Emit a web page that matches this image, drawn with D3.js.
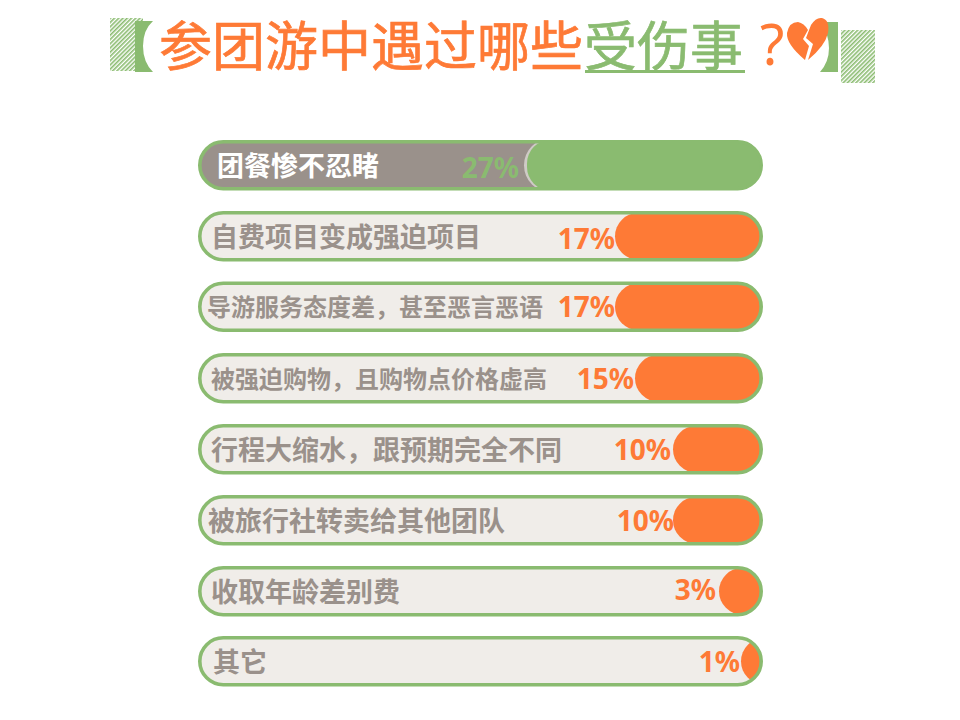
<!DOCTYPE html>
<html><head><meta charset="utf-8">
<script src="https://cdnjs.cloudflare.com/ajax/libs/d3/7.8.5/d3.min.js"></script>
<style>html,body{margin:0;background:#fff}svg{display:block}</style></head>
<body><svg id="c" width="960" height="720"></svg>
<script>
const categories=["团餐惨不忍睹","自费项目变成强迫项目","导游服务态度差，甚至恶言恶语","被强迫购物，且购物点价格虚高","行程大缩水，跟预期完全不同","被旅行社转卖给其他团队","收取年龄差别费","其它"];
const values=[27,17,17,15,10,10,3,1];
const tickLabels=["27%","17%","17%","15%","10%","10%","3%","1%"];
const labelX=[217,211,207,211,211,208,211,213];
const labelSize=[27,27,24,24,27,27,27,27];
const rowTops=[140,211,281.5,353,424,495,566,636];
const pctGap=[8,0,0,1,2,-1,3,1];
const pctY=[28,28,25.5,26,26,26,24,26];
const GREEN="#8abb70",ORANGE="#fe7a36",GREY="#9a918b",TRACK="#f0ede9";
const font='"Noto Sans CJK SC","Noto Sans",sans-serif';
const svg=d3.select("#c");
const defs=svg.append("defs");
const p=defs.append("pattern").attr("id","hatch").attr("width",3).attr("height",3)
 .attr("patternUnits","userSpaceOnUse").attr("patternTransform","rotate(45)");
p.append("rect").attr("width",3).attr("height",3).attr("fill","#fff");
p.append("rect").attr("width",1.6).attr("height",3).attr("fill",GREEN);

// value -> left edge of fill
const x=d3.scaleLinear().domain([1,3,10,15,17,27]).range([741,719,673,635,615,527]);
const L=198,R=763,H=50.5,sw=3.6;

const rows=svg.selectAll("g.row").data(values).join("g").attr("class","row")
 .attr("transform",(d,i)=>`translate(0,${rowTops[i]})`);
rows.each(function(d,i){
 const g=d3.select(this);
 const id="clip"+i;
 defs.append("clipPath").attr("id",id).append("rect")
  .attr("x",L+1).attr("y",1).attr("width",R-L-2).attr("height",H-2).attr("rx",(H-2)/2);
 g.append("rect").attr("x",L+1).attr("y",1).attr("width",R-L-2).attr("height",H-2)
  .attr("rx",(H-2)/2).attr("fill",i==0?GREY:TRACK);
 const cg=g.append("g").attr("clip-path",`url(#${id})`);
 if(i==0) cg.append("rect").attr("x",x(d)-3).attr("y",-2).attr("width",R-x(d)+60).attr("height",H+4).attr("rx",(H+4)/2).attr("fill","#cfcbc6");
 cg.append("rect").attr("x",x(d)).attr("y",i==0?0:sw/2).attr("width",R-x(d)+60).attr("height",i==0?H:H-sw)
  .attr("rx",(H-sw)/2).attr("fill",i==0?GREEN:ORANGE);
 g.append("rect").attr("x",L+sw/2).attr("y",sw/2).attr("width",R-L-sw).attr("height",H-sw)
  .attr("rx",(H-sw)/2).attr("fill","none").attr("stroke",GREEN).attr("stroke-width",sw);
 g.append("text").attr("x",labelX[i]).attr("y",H/2+1).attr("dy","0.36em")
  .attr("font-family",font).attr("font-weight",700).attr("font-size",labelSize[i])
  .attr("fill",i==0?"#fff":GREY).text(categories[i]);
 g.append("text").attr("x",x(d)-pctGap[i]).attr("y",pctY[i]).attr("dy","0.36em").attr("text-anchor","end")
  .attr("font-family",'"Noto Sans",sans-serif').attr("font-weight",700).attr("font-size",28)
  .attr("fill",i==0?GREEN:ORANGE).text(tickLabels[i]);
});

// Title
const title=svg.append("text").attr("y",66).attr("font-family",font).attr("font-size",53).attr("stroke-width",0.7);
title.append("tspan").attr("x",159).attr("fill",ORANGE).attr("stroke",ORANGE).text("参团游中遇过哪些");
title.append("tspan").attr("x",584).attr("fill",GREEN).attr("stroke",GREEN).text("受伤事");
svg.append("rect").attr("x",585).attr("y",70).attr("width",160).attr("height",3).attr("fill",GREEN);
svg.append("text").attr("x",760).attr("y",65).attr("font-family",'"Noto Sans",sans-serif').attr("font-size",56).attr("fill",ORANGE).text("?");

// Decorations
svg.append("rect").attr("x",110).attr("y",18).attr("width",33).attr("height",53).attr("fill","url(#hatch)");
svg.append("rect").attr("x",841).attr("y",30).attr("width",34).attr("height",53).attr("fill","url(#hatch)");
svg.append("path").attr("d","M135,21H153Q143,30 143,46Q143,62 153,72H135Z").attr("fill",GREEN);
svg.append("path").attr("d","M838,22H820Q829,34 829,48Q829,62 820,72H838Z").attr("fill",GREEN);
svg.append("path").attr("fill",ORANGE).attr("d","M805,60Q786,44 787,33Q789,22 798,22Q804,23 808,30L803,39L809,46L805,60Z");
svg.append("path").attr("fill",ORANGE).attr("d","M808,60L813,44L806,38L811,25Q816,17 822,18Q830,20 828,33Q825,46 808,60Z");
</script></body></html>
